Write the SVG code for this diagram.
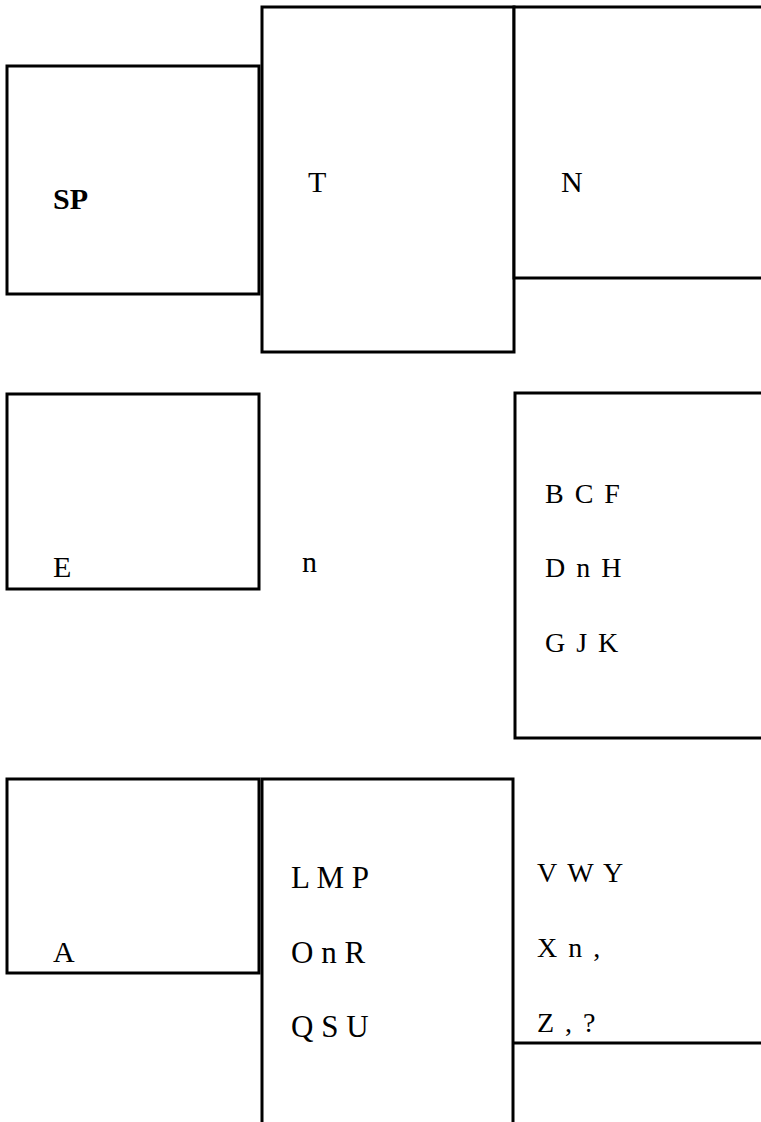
<svg xmlns="http://www.w3.org/2000/svg" width="761" height="1122" viewBox="0 0 761 1122">
  <style>
    .box { fill: #ffffff; stroke: #000000; stroke-width: 3; }
    .edge { fill: none; stroke: #000000; stroke-width: 3; }
    text { font-family: "Liberation Serif", "Times New Roman", serif; fill: #000000; }
    .big { font-size: 30px; }
    .mid { font-size: 31px; }
    .small { font-size: 28px; letter-spacing: 2px; }
    .bold { font-size: 30px; font-weight: bold; }
  </style>
  <rect width="761" height="1122" fill="#ffffff"/>

  <g id="node-sp">
    <rect class="box" x="7" y="66" width="252" height="228"/>
    <text class="bold" x="53" y="209">SP</text>
  </g>
  <g id="node-t">
    <rect class="box" x="262" y="7" width="252" height="345"/>
    <text class="big" x="308" y="192">T</text>
  </g>
  <g id="node-n">
    <rect class="box" x="514" y="7" width="260" height="271"/>
    <text class="big" x="561" y="192">N</text>
  </g>
  <g id="node-e">
    <rect class="box" x="7" y="394" width="252" height="195"/>
    <text class="big" x="53" y="577">E</text>
  </g>
  <g id="node-n-free">
    <text class="big" x="302" y="572">n</text>
  </g>
  <g id="node-bcf">
    <rect class="box" x="515" y="393" width="260" height="345"/>
    <text class="small" x="545" y="503">B C F</text>
    <text class="small" x="545" y="577">D n H</text>
    <text class="small" x="545" y="652">G J K</text>
  </g>
  <g id="node-a">
    <rect class="box" x="7" y="779" width="252" height="194"/>
    <text class="big" x="53" y="962">A</text>
  </g>
  <g id="node-lmp">
    <rect class="box" x="262" y="779" width="251" height="400"/>
    <text class="mid" x="291" y="888">L M P</text>
    <text class="mid" x="291" y="963">O n R</text>
    <text class="mid" x="291" y="1037">Q S U</text>
  </g>
  <g id="node-vwy">
    <text class="small" x="537" y="882">V W Y</text>
    <text class="small" x="537" y="957">X n ,</text>
    <text class="small" x="537" y="1032">Z , ?</text>
  </g>
  <g id="connectors">
    <line class="edge" x1="513" y1="1043" x2="761" y2="1043"/>
  </g>
</svg>
